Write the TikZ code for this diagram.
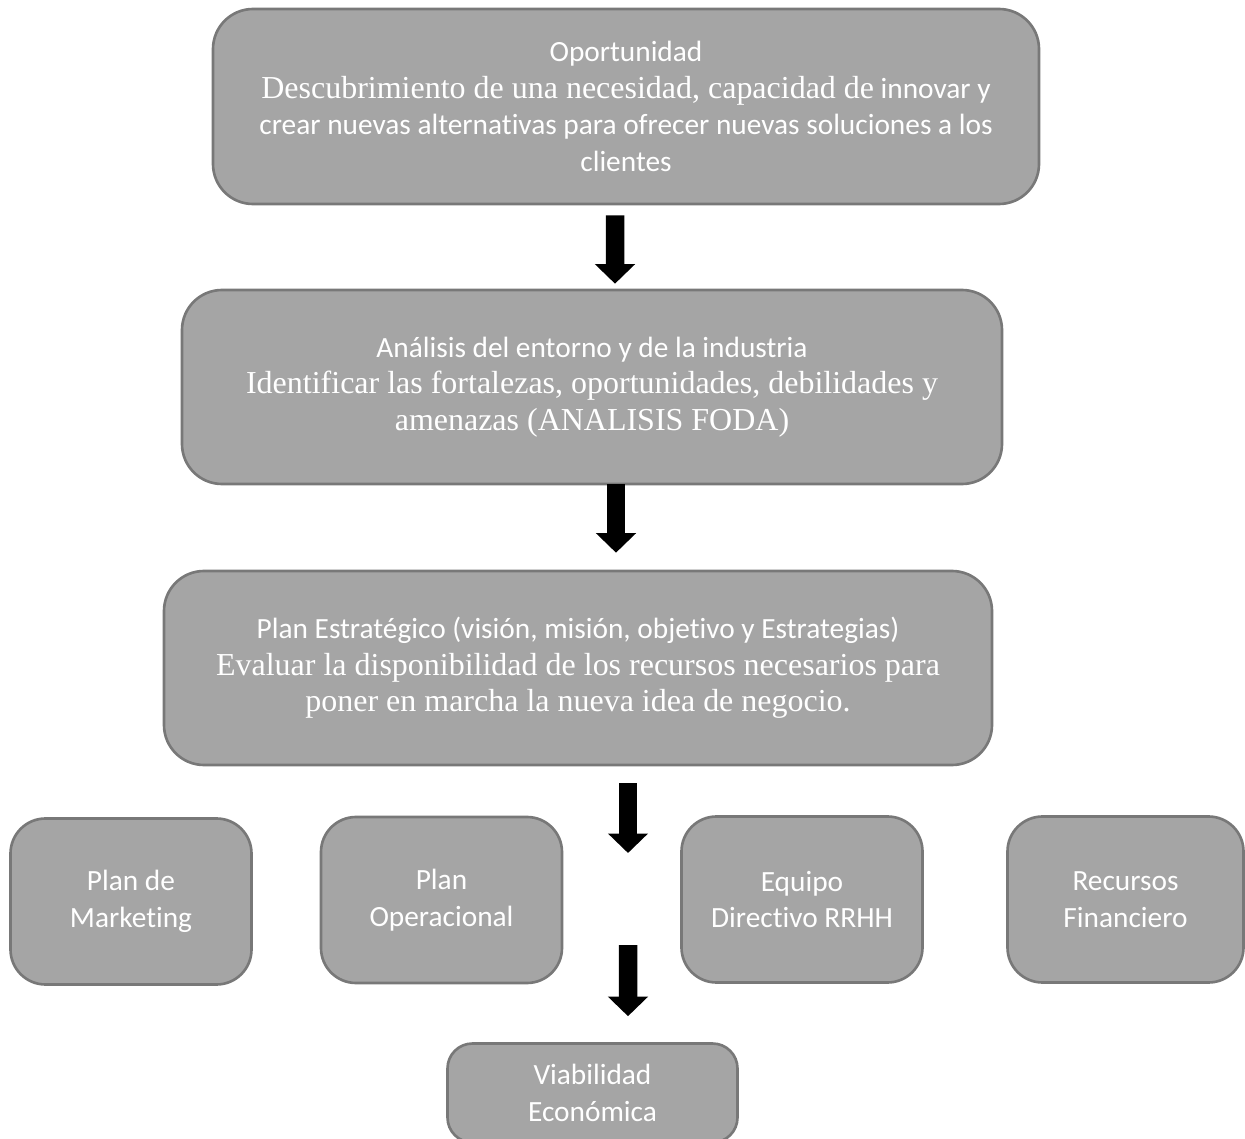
\documentclass[tikz,border=0pt]{standalone}
\usepackage{fontspec}
\setmainfont{Liberation Serif}
\setsansfont{Carlito}[Ligatures=NoCommon]
\usepackage{tikz}
\usetikzlibrary{arrows.meta}

\definecolor{gris}{HTML}{A5A5A5}
\definecolor{borde}{HTML}{787878}
\newcommand{\tit}{\fontsize{16.7}{20.8}\selectfont\sffamily}
\newcommand{\txt}{\fontsize{18.2}{20.8}\selectfont\rmfamily}

\begin{document}
\begin{tikzpicture}[
   caja/.style={draw=borde,fill=gris,line width=1.5pt,text=white,align=center,
      rounded corners=0.8cm,font=\tit},
   cajita/.style={caja,rounded corners=0.7cm,minimum width=4.82cm,minimum height=3.32cm},
   flecha/.style={line width=0.37cm,-{Triangle[width=0.78cm,length=0.39cm]}}]
   \useasboundingbox (0,0) rectangle (24.9,-22.78);
   % cajas grandes
   \node[caja,minimum width=16.52cm,minimum height=3.9cm] (oport) at (12.52,-2.13)
   {Oportunidad\\
   {\txt Descubrimiento de una necesidad, capacidad de} innovar y\\
   crear nuevas alternativas para ofrecer nuevas soluciones a los\\
   clientes};
   \node[caja,minimum width=16.4cm,minimum height=3.88cm] (analisis) at (11.84,-7.74)
   {An\'alisis del entorno y de la industria\\
   {\txt Identificar las fortalezas, oportunidades, debilidades y}\\
   {\txt amenazas (ANALISIS FODA)}};
   \node[caja,minimum width=16.56cm,minimum height=3.88cm] (plan) at (11.56,-13.36)
   {Plan Estrat\'egico (visi\'on, misi\'on, objetivo y Estrategias)\\
   {\txt Evaluar la disponibilidad de los recursos necesarios para}\\
   {\txt poner en marcha la nueva idea de negocio.}};
   % cajas chicas
   \node[cajita] (marketing) at (2.62,-18.03) {Plan de\\Marketing};
   \node[cajita] (operacional) at (8.83,-18.0) {Plan\\Operacional};
   \node[cajita] (equipo) at (16.04,-17.99) {Equipo\\Directivo RRHH};
   \node[cajita,minimum width=4.72cm] (recursos) at (22.51,-17.99) {Recursos\\Financiero};
   \node[caja,rounded corners=0.5cm,minimum width=5.8cm,minimum height=1.98cm] (viabilidad)
   at (11.85,-21.86) {Viabilidad\\Econ\'omica};
   % flechas
   \coordinate (fin3) at (12.56,-17.06);
   \coordinate (ini4) at (12.56,-18.90);
   \draw[flecha] ([xshift=-0.22cm,yshift=-0.2cm]oport.south) -- ([xshift=0.46cm,yshift=0.1cm]analisis.north);
   \draw[flecha] ([xshift=0.48cm,yshift=0.02cm]analisis.south) -- ([xshift=0.76cm,yshift=0.34cm]plan.north);
   \draw[flecha] ([xshift=1cm,yshift=-0.34cm]plan.south) -- (fin3);
   \draw[flecha] (ini4) -- ([xshift=0.71cm,yshift=0.52cm]viabilidad.north);
\end{tikzpicture}
\end{document}
